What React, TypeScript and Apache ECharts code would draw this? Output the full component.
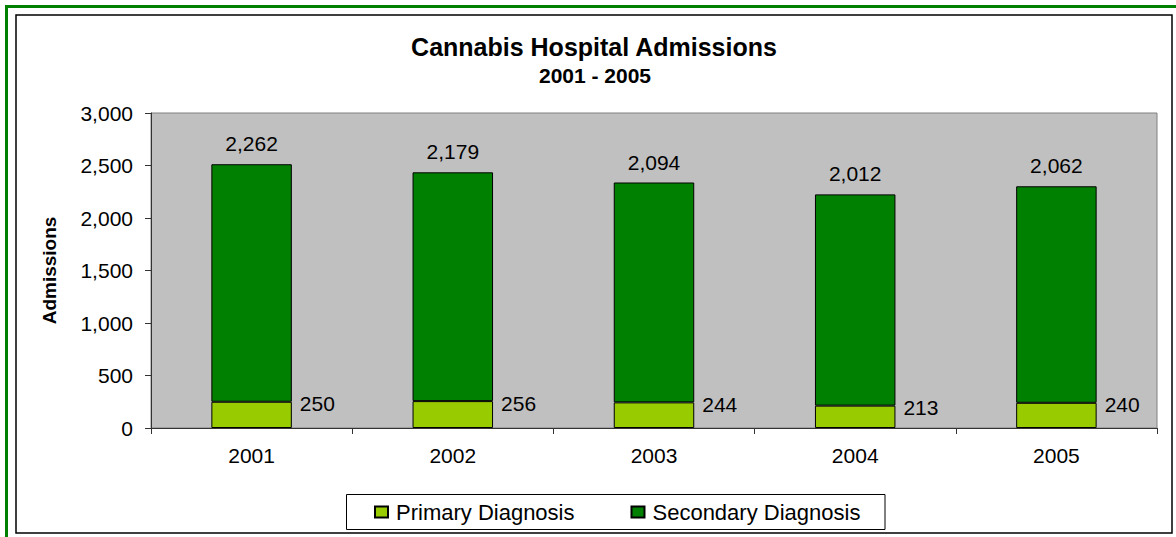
import React, { useEffect, useRef } from "react";
import * as echarts from "echarts";

const years = ["2001", "2002", "2003", "2004", "2005"];
const primaryDiagnosis = [250, 256, 244, 213, 240];
const secondaryDiagnosis = [2262, 2179, 2094, 2012, 2062];
const yTicks = { min: 0, max: 3000, interval: 500 };

const FONT = "'Liberation Sans', Arial, Helvetica, sans-serif";
const fmt = (v: number) => v.toLocaleString("en-US");

export default function App() {
  const ref = useRef<HTMLDivElement>(null);
  useEffect(() => {
    if (!ref.current) return;
    const chart = echarts.init(ref.current, undefined, { renderer: "svg" });
    chart.setOption({
      animation: false,
      backgroundColor: "#ffffff",
      textStyle: { fontFamily: FONT },
      graphic: [
        {
          type: "rect",
          shape: { x: 6.5, y: 6.5, width: 1180, height: 540 },
          style: { fill: "none", stroke: "#008000", lineWidth: 3 },
          silent: true,
        },
        {
          type: "rect",
          shape: { x: 16, y: 15, width: 1156, height: 518 },
          style: { fill: "none", stroke: "#000000", lineWidth: 1.5 },
          silent: true,
        },
        {
          type: "text",
          x: 594,
          y: 47,
          style: {
            text: "Cannabis Hospital Admissions",
            fontFamily: FONT,
            fontSize: 25,
            fontWeight: "bold",
            fill: "#000",
            align: "center",
            verticalAlign: "middle",
          },
        },
        {
          type: "text",
          x: 595,
          y: 75,
          style: {
            text: "2001 - 2005",
            fontFamily: FONT,
            fontSize: 21,
            fontWeight: "bold",
            fill: "#000",
            align: "center",
            verticalAlign: "middle",
          },
        },
        {
          type: "rect",
          shape: { x: 346.5, y: 494.5, width: 538.5, height: 35 },
          style: { fill: "none", stroke: "#000000", lineWidth: 1 },
          silent: true,
        },
      ],
      legend: {
        left: 374,
        top: 501,
        padding: 0,
        itemWidth: 13,
        itemHeight: 11,
        itemGap: 56,
        icon: "rect",
        textStyle: {
          fontFamily: FONT,
          fontSize: 22,
          color: "#000",
          padding: [0, 0, 0, 3],
        },
        data: ["Primary Diagnosis", "Secondary Diagnosis"],
      },
      grid: {
        left: 151,
        top: 113,
        width: 1006,
        height: 315,
        show: true,
        backgroundColor: "#C0C0C0",
        borderColor: "#808080",
        borderWidth: 1,
      },
      xAxis: {
        type: "category",
        data: years,
        axisLine: { lineStyle: { color: "#333", width: 1 } },
        axisTick: { show: true, length: 6, alignWithLabel: false, lineStyle: { color: "#333" } },
        axisLabel: { fontFamily: FONT, fontSize: 21, color: "#000", margin: 17 },
      },
      yAxis: {
        type: "value",
        min: yTicks.min,
        max: yTicks.max,
        interval: yTicks.interval,
        name: "Admissions",
        nameLocation: "middle",
        nameRotate: 90,
        nameGap: 92,
        nameTextStyle: { fontFamily: FONT, fontSize: 19, fontWeight: "bold", color: "#000" },
        axisLine: { show: true, lineStyle: { color: "#333", width: 1 } },
        axisTick: { show: true, length: 6, lineStyle: { color: "#333" } },
        splitLine: { show: false },
        axisLabel: {
          fontFamily: FONT,
          fontSize: 21,
          color: "#000",
          margin: 18,
          formatter: (v: number) => fmt(v),
        },
      },
      series: [
        {
          name: "Primary Diagnosis",
          type: "bar",
          stack: "total",
          barWidth: "40%",
          data: primaryDiagnosis,
          itemStyle: { color: "#99CC00", borderColor: "#000", borderWidth: 1 },
          label: {
            show: true,
            position: ["100%", 0],
            align: "left",
            verticalAlign: "middle",
            offset: [8, 2],
            fontFamily: FONT,
            fontSize: 21,
            color: "#000",
            formatter: (p: any) => fmt(p.value),
          },
        },
        {
          name: "Secondary Diagnosis",
          type: "bar",
          stack: "total",
          barWidth: "40%",
          data: secondaryDiagnosis,
          itemStyle: { color: "#008000", borderColor: "#000", borderWidth: 1 },
          label: {
            show: true,
            position: "top",
            distance: 10,
            fontFamily: FONT,
            fontSize: 21,
            color: "#000",
            formatter: (p: any) => fmt(p.value),
          },
        },
      ],
    });
    return () => chart.dispose();
  }, []);
  return (
    <div
      ref={ref}
      style={{ position: "absolute", left: 0, top: 0, width: 1176, height: 537 }}
    />
  );
}
